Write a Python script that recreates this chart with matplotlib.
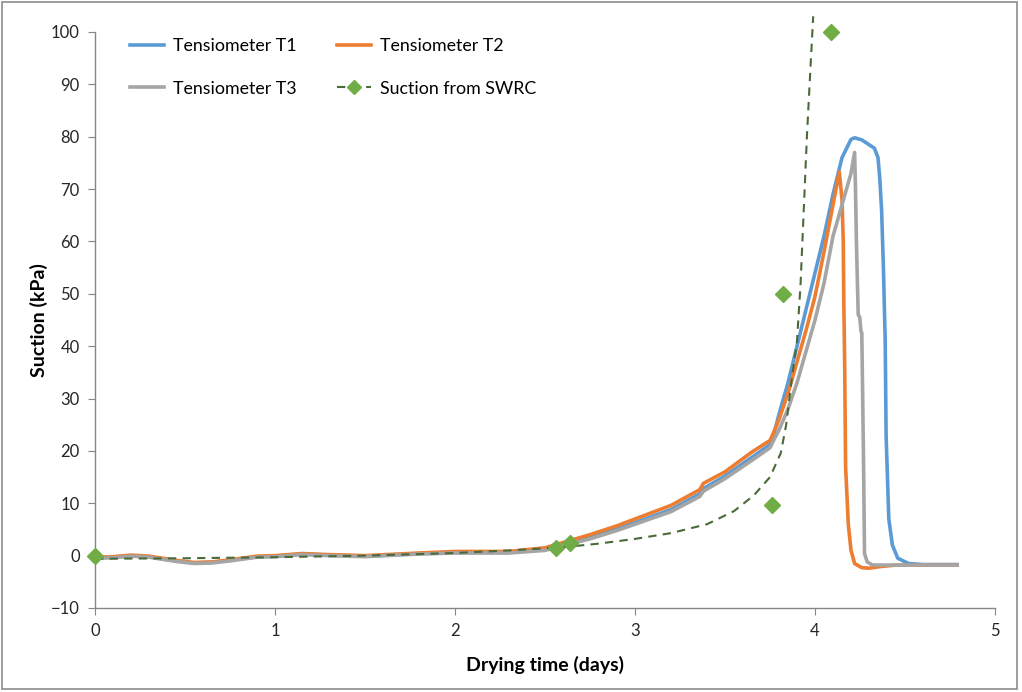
import matplotlib
matplotlib.use("Agg")
import matplotlib.pyplot as plt
from matplotlib.lines import Line2D
from matplotlib.patches import Rectangle

plt.rcParams['font.family'] = ['Lato', 'DejaVu Sans']

# Tensiometer T1 (blue)
t1_x = [0, 0.1, 0.2, 0.3, 0.45, 0.55, 0.65, 0.75, 0.9, 1.0, 1.15, 1.3, 1.5,
        1.8, 2.0, 2.3, 2.5, 2.6, 2.75, 2.9, 3.0, 3.2, 3.36, 3.38, 3.5, 3.65,
        3.75, 3.77, 3.8, 3.85, 3.9, 3.95, 4.0, 4.05, 4.1, 4.15, 4.2, 4.22,
        4.26, 4.33, 4.35, 4.36, 4.37, 4.38, 4.39, 4.395, 4.41, 4.43, 4.46,
        4.52, 4.6, 4.79]
t1_y = [-0.4, -0.3, 0.0, -0.2, -1.0, -1.4, -1.3, -0.9, -0.2, -0.1, 0.3, 0.1,
        -0.1, 0.4, 0.6, 0.6, 1.2, 2.1, 3.5, 5.1, 6.3, 8.8, 11.8, 12.8, 15.2,
        18.8, 21.2, 23.0, 27.0, 33.0, 40.0, 47.0, 54.0, 61.0, 69.0, 76.0,
        79.5, 79.8, 79.4, 77.8, 76.0, 72.0, 66.0, 55.0, 41.0, 23.0, 7.0, 2.0,
        -0.5, -1.5, -1.7, -1.7]

# Tensiometer T2 (orange)
t2_x = [0, 0.1, 0.2, 0.3, 0.45, 0.55, 0.65, 0.75, 0.9, 1.0, 1.15, 1.3, 1.5,
        1.8, 2.0, 2.3, 2.5, 2.6, 2.75, 2.9, 3.0, 3.2, 3.36, 3.38, 3.5, 3.65,
        3.75, 3.77, 3.8, 3.85, 3.9, 3.95, 4.0, 4.05, 4.1, 4.135, 4.15, 4.157,
        4.16, 4.165, 4.17, 4.185, 4.2, 4.22, 4.26, 4.3, 4.36, 4.45, 4.79]
t2_y = [-0.3, -0.2, 0.1, -0.1, -0.9, -1.3, -1.2, -0.8, -0.1, 0.0, 0.4, 0.2,
        0.0, 0.5, 0.8, 0.8, 1.5, 2.5, 4.0, 5.7, 7.0, 9.6, 12.6, 13.8, 16.0,
        19.8, 22.0, 23.5, 26.0, 31.0, 37.0, 43.0, 49.5, 58.0, 67.0, 73.3,
        68.0, 60.0, 48.8, 36.0, 17.0, 6.0, 1.0, -1.5, -2.3, -2.4, -2.1, -1.8,
        -1.8]

# Tensiometer T3 (grey)
t3_x = [0, 0.1, 0.2, 0.3, 0.45, 0.55, 0.65, 0.75, 0.9, 1.0, 1.15, 1.3, 1.5,
        1.8, 2.0, 2.3, 2.5, 2.6, 2.75, 2.9, 3.0, 3.2, 3.36, 3.38, 3.5, 3.65,
        3.75, 3.77, 3.8, 3.85, 3.9, 3.95, 4.0, 4.05, 4.1, 4.15, 4.2, 4.22,
        4.225, 4.23, 4.24, 4.248, 4.25, 4.255, 4.26, 4.265, 4.27, 4.275,
        4.29, 4.32, 4.79]
t3_y = [-0.5, -0.4, -0.1, -0.3, -1.1, -1.5, -1.4, -1.0, -0.3, -0.2, 0.2, 0.0,
        -0.2, 0.3, 0.5, 0.5, 1.0, 1.9, 3.2, 4.8, 6.0, 8.4, 11.3, 12.3, 14.7,
        18.2, 20.6, 22.0, 24.0, 28.0, 33.0, 39.0, 45.0, 52.0, 61.0, 67.0,
        73.0, 77.0, 70.0, 60.0, 46.0, 45.6, 45.0, 43.0, 42.5, 30.0, 17.0, 0.4,
        -1.2, -1.8, -1.8]

# Suction from SWRC: points and dashed curve
swrc_x = [0, 2.56, 2.64, 3.76, 3.82, 4.09]
swrc_y = [0, 1.5, 2.5, 9.7, 50.0, 100.0]
curve_x = [0, 0.5, 1.0, 1.5, 2.0, 2.3, 2.6, 2.8, 3.0, 3.2, 3.4, 3.55, 3.66,
           3.75, 3.81, 3.84, 3.87, 3.9, 3.92, 3.94, 3.955, 3.97, 3.99]
curve_y = [-0.6, -0.5, -0.3, 0.0, 0.5, 1.0, 1.6, 2.3, 3.2, 4.3, 6.0, 8.5,
           11.5, 15.0, 19.6, 25.0, 33.5, 41.0, 52.0, 68.0, 80.0, 90.0, 103.0]

fig = plt.figure(figsize=(10.22, 6.92), dpi=100)
ax = fig.add_axes([95 / 1022, 1 - 608 / 692, 900 / 1022, 576 / 692])

ax.plot(t1_x, t1_y, color='#5B9BD5', lw=2.6)
ax.plot(t2_x, t2_y, color='#ED7D31', lw=2.6)
ax.plot(t3_x, t3_y, color='#A5A5A5', lw=2.6)
ax.plot(curve_x, curve_y, color='#4a6a3a', lw=1.5, ls=(0, (4, 3)),
        clip_on=False)
ax.plot(swrc_x, swrc_y, ls='none', marker='D', ms=8.5, color='#70AD47',
        clip_on=False, zorder=5)

ax.set_xlim(0, 5)
ax.set_ylim(-10, 100)
ax.set_xticks(range(0, 6))
ax.set_yticks(range(-10, 101, 10))
for s in ['top', 'right']:
    ax.spines[s].set_visible(False)
for s in ['left', 'bottom']:
    ax.spines[s].set_color('#868686')
    ax.spines[s].set_linewidth(1.0)
ax.tick_params(direction='out', length=5, color='#868686', labelsize=12,
               labelcolor='#262626', pad=6)
ax.set_xlabel('Drying time (days)', fontsize=14, fontweight='bold',
              labelpad=12)
ax.set_ylabel('Suction (kPa)', fontsize=14, fontweight='bold', labelpad=2)

# legend fills column-wise, so order gives rows T1/T2 and T3/SWRC
handles = [
    Line2D([], [], color='#5B9BD5', lw=2.6),
    Line2D([], [], color='#A5A5A5', lw=2.6),
    Line2D([], [], color='#ED7D31', lw=2.6),
    Line2D([], [], color='#4a6a3a', lw=1.5, ls=(0, (4, 3)), marker='D',
           ms=7, mfc='#70AD47', mec='#70AD47'),
]
labels = ['Tensiometer T1', 'Tensiometer T3', 'Tensiometer T2',
          'Suction from SWRC']
fig.legend(handles, labels, loc='upper left', ncol=2, frameon=False,
           bbox_to_anchor=(114 / 1022, 1 - 22 / 692), fontsize=12.8,
           handlelength=1.9, columnspacing=2.3, labelspacing=1.5,
           handletextpad=0.5)

fig.patches.append(Rectangle((2 / 1022, 3 / 692), 1015 / 1022, 687 / 692,
                             transform=fig.transFigure, fill=False,
                             edgecolor='#8c8c8c', lw=1.2))

fig.savefig('out.png', dpi=100)
